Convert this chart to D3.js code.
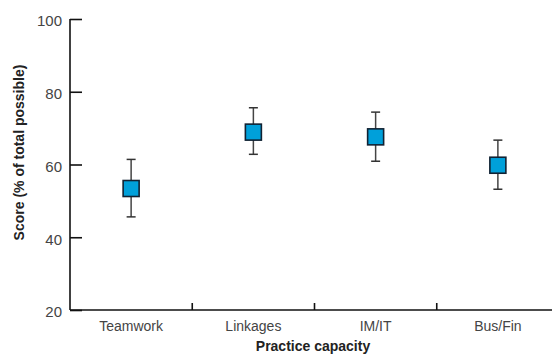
<html>
<head>
<meta charset="utf-8">
<script src="https://d3js.org/d3.v7.min.js"></script>
<style>
body { margin: 0; background: #fff; }
</style>
</head>
<body>
<svg id="chart" width="552" height="355"></svg>
<script>
var categories = ["Teamwork", "Linkages", "IM/IT", "Bus/Fin"];
var means = [53.4, 68.9, 67.6, 59.8];
var upper = [61.4, 75.6, 74.4, 66.7];
var lower = [45.6, 62.8, 60.9, 53.2];
var yTicks = [20, 40, 60, 80, 100];

var data = categories.map((c, i) => ({cat: c, mean: means[i], hi: upper[i], lo: lower[i]}));

var svg = d3.select("#chart"),
	margin = {top: 19, left: 70, bottom: 45, right: -7},
	width = +svg.attr("width"),
	height = +svg.attr("height");

var x = d3.scaleBand()
	.domain(categories)
	.range([margin.left, width - margin.right]);

var y = d3.scaleLinear()
	.domain([20, 100])
	.range([height - margin.bottom, margin.top]);

// x axis, ticks pointing up at band edges
var xg = svg.append("g")
	.attr("transform", `translate(0,${y(20)})`);
xg.append("line")
	.attr("x1", margin.left).attr("x2", width)
	.attr("stroke", "#111").attr("stroke-width", 1.6);
xg.selectAll(".xt")
	.data(categories.slice(1))
	.enter().append("line")
	.attr("x1", d => x(d)).attr("x2", d => x(d))
	.attr("y1", 0).attr("y2", -7)
	.attr("stroke", "#111").attr("stroke-width", 1.6);
xg.selectAll(".xl")
	.data(categories)
	.enter().append("text")
	.attr("x", d => x(d) + x.bandwidth() / 2)
	.attr("y", 21)
	.attr("text-anchor", "middle")
	.attr("font-family", "Liberation Sans, Arial, sans-serif")
	.attr("font-size", 14)
	.attr("fill", "#444")
	.text(d => d);

// y axis
var yAxis = svg.append("g")
	.attr("transform", `translate(${margin.left},0)`)
	.call(d3.axisRight(y).tickValues(yTicks).tickSize(12).tickFormat(d => d));
yAxis.select(".domain").attr("stroke", "#111").attr("stroke-width", 1.6).attr("d", `M0,${y(100)}V${y(20)}`);
yAxis.selectAll(".tick line").attr("stroke", "#111").attr("stroke-width", 1.6);
yAxis.selectAll(".tick text")
	.attr("x", -8)
	.attr("dy", "0.45em")
	.attr("text-anchor", "end")
	.attr("font-family", "Liberation Sans, Arial, sans-serif")
	.attr("font-size", 15)
	.attr("fill", "#444");

// error bars
var g = svg.append("g").selectAll("g")
	.data(data)
	.enter().append("g")
	.attr("transform", d => `translate(${x(d.cat) + x.bandwidth() / 2},0)`);

g.append("line")
	.attr("y1", d => y(d.hi)).attr("y2", d => y(d.lo))
	.attr("stroke", "#444").attr("stroke-width", 1.5);
g.append("line")
	.attr("x1", -4.5).attr("x2", 4.5)
	.attr("y1", d => y(d.hi)).attr("y2", d => y(d.hi))
	.attr("stroke", "#333").attr("stroke-width", 1.5);
g.append("line")
	.attr("x1", -4.5).attr("x2", 4.5)
	.attr("y1", d => y(d.lo)).attr("y2", d => y(d.lo))
	.attr("stroke", "#333").attr("stroke-width", 1.5);
g.append("rect")
	.attr("x", -8).attr("width", 16)
	.attr("y", d => y(d.mean) - 8).attr("height", 16)
	.attr("fill", "#00a0da")
	.attr("stroke", "#112233").attr("stroke-width", 1.6);

// axis titles
svg.append("text")
	.attr("transform", `translate(24,${(y(20) + y(100)) / 2 - 12}) rotate(-90)`)
	.attr("text-anchor", "middle")
	.attr("font-family", "Liberation Sans, Arial, sans-serif")
	.attr("font-weight", "bold")
	.attr("font-size", 14)
	.attr("fill", "#222")
	.text("Score (% of total possible)");

svg.append("text")
	.attr("x", 313)
	.attr("y", 351)
	.attr("text-anchor", "middle")
	.attr("font-family", "Liberation Sans, Arial, sans-serif")
	.attr("font-weight", "bold")
	.attr("font-size", 14)
	.attr("fill", "#222")
	.text("Practice capacity");
</script>
</body>
</html>
